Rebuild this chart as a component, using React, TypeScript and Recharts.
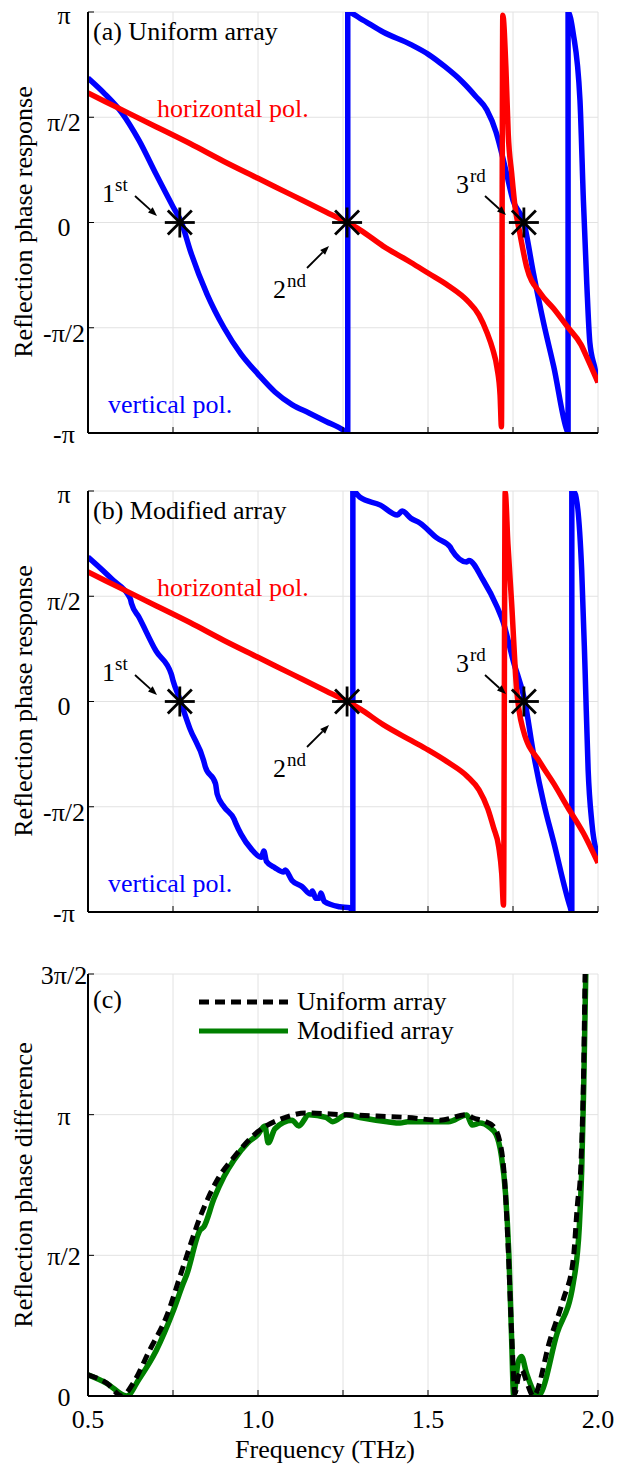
import React from "react";
import { ComposedChart, Line, Scatter, XAxis, YAxis, CartesianGrid } from "recharts";

const FONT = "'Liberation Serif', 'DejaVu Serif', 'Times New Roman', serif";

// frequency axis (THz)
const freqTicks = [0.5, 0.75, 1.0, 1.25, 1.5, 1.75, 2.0];
const freqLabels: Record<string, string> = { "0.5": "0.5", "1": "1.0", "1.5": "1.5", "2": "2.0" };

// phase axes, values in units of pi
const phaseTicks = [-1, -0.5, 0, 0.5, 1];
const phaseLabels: Record<string, string> = { "-1": "-π", "-0.5": "-π/2", "0": "0", "0.5": "π/2", "1": "π" };
const diffTicks = [0, 0.5, 1, 1.5];
const diffLabels: Record<string, string> = { "0": "0", "0.5": "π/2", "1": "π", "1.5": "3π/2" };

// (a) uniform array
const vertA: [number, number][] = [
  [0.5, 0.686], [0.55, 0.61], [0.6, 0.52], [0.65, 0.39], [0.7, 0.23], [0.75, 0.075], [0.775, 0.0],
  [0.8, -0.13], [0.85, -0.34], [0.9, -0.5], [0.95, -0.625], [1.0, -0.72], [1.05, -0.805], [1.1, -0.865],
  [1.15, -0.905], [1.2, -0.945], [1.25, -0.985], [1.264, -1.0], [1.264, 1.0], [1.3, 0.97], [1.368, 0.905],
  [1.45, 0.845], [1.5, 0.8], [1.55, 0.74], [1.6, 0.67], [1.64, 0.6], [1.673, 0.535], [1.7, 0.43],
  [1.712, 0.36], [1.73, 0.24], [1.75, 0.105], [1.782, 0.0], [1.81, -0.24], [1.84, -0.477], [1.87, -0.686],
  [1.908, -0.985], [1.912, -1.0], [1.912, 1.0], [1.927, 0.9], [1.947, 0.58], [1.957, 0.107],
  [1.967, -0.29], [1.976, -0.57], [1.99, -0.686], [2.0, -0.76],
];
const horizA: [number, number][] = [
  [0.5, 0.615], [0.6, 0.535], [0.7, 0.455], [0.8, 0.375], [0.9, 0.29], [1.0, 0.21], [1.1, 0.13],
  [1.2, 0.05], [1.262, 0.0], [1.3, -0.035], [1.368, -0.112], [1.45, -0.19], [1.5, -0.24], [1.56, -0.3],
  [1.615, -0.37], [1.65, -0.44], [1.674, -0.525], [1.69, -0.6], [1.703, -0.69], [1.712, -0.82],
  [1.716, -0.97], [1.72, 0.985], [1.729, 0.74], [1.736, 0.42], [1.746, 0.235], [1.756, 0.075],
  [1.77, -0.05], [1.79, -0.21], [1.83, -0.335], [1.87, -0.41], [1.91, -0.495], [1.95, -0.58],
  [1.97, -0.65], [2.0, -0.76],
];

// (b) modified array
const vertB: [number, number][] = [
  [0.5, 0.686], [0.573, 0.577], [0.624, 0.49], [0.628, 0.465], [0.65, 0.4], [0.7, 0.24], [0.745, 0.13],
  [0.75, 0.1], [0.77, 0.01], [0.8, -0.13], [0.84, -0.28], [0.845, -0.31], [0.875, -0.39], [0.88, -0.44],
  [0.9, -0.5], [0.93, -0.56], [0.935, -0.58], [0.95, -0.63], [0.98, -0.7], [1.01, -0.74], [1.017, -0.71],
  [1.025, -0.76], [1.05, -0.79], [1.075, -0.81], [1.08, -0.8], [1.1, -0.85], [1.13, -0.88], [1.155, -0.915],
  [1.16, -0.9], [1.17, -0.935], [1.18, -0.935], [1.185, -0.91], [1.195, -0.95], [1.24, -0.975],
  [1.27, -0.98], [1.279, -1.0], [1.279, 1.0], [1.3, 0.97], [1.36, 0.933], [1.41, 0.886], [1.424, 0.905],
  [1.45, 0.87], [1.476, 0.848], [1.526, 0.777], [1.565, 0.734], [1.57, 0.72], [1.614, 0.663],
  [1.62, 0.67], [1.662, 0.577], [1.703, 0.45], [1.722, 0.373], [1.75, 0.197], [1.785, 0.0],
  [1.81, -0.245], [1.84, -0.48], [1.87, -0.67], [1.918, -0.976], [1.923, -1.0], [1.923, 1.0],
  [1.932, 0.99], [1.952, 0.625], [1.962, 0.15], [1.971, -0.325], [1.982, -0.577], [2.0, -0.738],
];
const horizB: [number, number][] = [
  [0.5, 0.615], [0.6, 0.535], [0.7, 0.455], [0.8, 0.375], [0.9, 0.29], [1.0, 0.21], [1.1, 0.13],
  [1.2, 0.05], [1.262, 0.0], [1.3, -0.035], [1.368, -0.11], [1.45, -0.185], [1.5, -0.23], [1.56, -0.29],
  [1.615, -0.355], [1.65, -0.42], [1.676, -0.51], [1.693, -0.6], [1.708, -0.69], [1.717, -0.82],
  [1.722, -0.967], [1.727, 0.995], [1.735, 0.75], [1.746, 0.467], [1.76, 0.07], [1.78, -0.135],
  [1.83, -0.29], [1.87, -0.39], [1.91, -0.5], [1.957, -0.625], [2.0, -0.767],
];

const starsA: [number, number][] = [[0.77, 0], [1.262, 0], [1.782, 0]];
const starsB: [number, number][] = [[0.77, 0], [1.262, 0], [1.782, 0]];

// (c) phase difference
const diffUniform: [number, number][] = [
  [0.5, 0.075], [0.555, 0.046], [0.6, 0.0], [0.633, 0.046], [0.68, 0.16], [0.73, 0.28], [0.78, 0.46],
  [0.83, 0.637], [0.88, 0.768], [0.93, 0.85], [1.0, 0.94], [1.075, 0.988], [1.14, 1.006], [1.25, 1.0],
  [1.35, 0.995], [1.44, 0.99], [1.535, 0.98], [1.614, 1.0], [1.63, 0.99], [1.67, 0.975], [1.691, 0.96],
  [1.712, 0.9], [1.726, 0.757], [1.736, 0.52], [1.746, 0.224], [1.756, 0.01], [1.766, 0.07],
  [1.776, 0.092], [1.79, 0.05], [1.81, 0.0], [1.859, 0.2], [1.897, 0.34], [1.927, 0.483], [1.941, 0.7],
  [1.947, 0.76], [1.953, 0.93], [1.957, 1.11], [1.962, 1.5],
];
const diffModified: [number, number][] = [
  [0.5, 0.075], [0.555, 0.045], [0.614, 0.0], [0.65, 0.06], [0.7, 0.16], [0.75, 0.3], [0.78, 0.4],
  [0.79, 0.43], [0.83, 0.59], [0.84, 0.6], [0.87, 0.7], [0.9, 0.78], [0.93, 0.84], [0.97, 0.9],
  [1.0, 0.93], [1.02, 0.96], [1.03, 0.9], [1.05, 0.95], [1.1, 0.98], [1.12, 0.96], [1.15, 1.0],
  [1.2, 0.99], [1.22, 0.975], [1.26, 1.0], [1.3, 0.99], [1.38, 0.975], [1.418, 0.97], [1.44, 0.975],
  [1.5, 0.975], [1.56, 0.975], [1.614, 0.999], [1.63, 0.963], [1.653, 0.97], [1.68, 0.956], [1.7, 0.93],
  [1.715, 0.86], [1.728, 0.72], [1.738, 0.5], [1.746, 0.2], [1.752, 0.0], [1.765, 0.12], [1.775, 0.14],
  [1.79, 0.08], [1.824, 0.0], [1.88, 0.224], [1.927, 0.4], [1.945, 0.6], [1.952, 0.8], [1.958, 1.1],
  [1.964, 1.5],
];

const pts = (a: [number, number][]) => a.map(([f, p]) => ({ f, p }));

const PLOT_L = 88;
const PLOT_R = 598;
const TICK = 6;
const txt = { fontFamily: FONT, fontSize: 26 };
const sup = { fontFamily: FONT, fontSize: 19 };

// baseline shift of y tick labels below their grid line
const phaseLabelDy: Record<string, number> = { "π": 12, "-π": 10, "0": 13, "π/2": 14, "-π/2": 14 };

function Star(props: any) {
  const { cx, cy } = props;
  const r = 15;
  const d = 12;
  return (
    <g stroke="#000" strokeWidth={2.8}>
      <line x1={cx - r} y1={cy} x2={cx + r} y2={cy} />
      <line x1={cx} y1={cy - r} x2={cx} y2={cy + r} />
      <line x1={cx - d} y1={cy - d} x2={cx + d} y2={cy + d} />
      <line x1={cx - d} y1={cy + d} x2={cx + d} y2={cy - d} />
    </g>
  );
}

function makeAxes(plotTop: number, plotBottom: number, yDomain: number[], yTicks: number[], yLabels: Record<string, string>, showX: boolean) {
  const axisLine = { stroke: "#000", strokeWidth: 2 };
  return [
    <XAxis
      key="xb"
      xAxisId={0}
      type="number"
      dataKey="f"
      domain={[0.5, 2]}
      ticks={freqTicks}
      allowDataOverflow
      height={showX ? 71 : 17}
      axisLine={axisLine}
      tickLine={false}
      interval={0}
      tick={(p: any) => {
        const x = p.payload.coordinate;
        const lab = freqLabels[String(p.payload.value)];
        return (
          <g>
            <line x1={x} x2={x} y1={plotBottom} y2={plotBottom - TICK} stroke="#000" />
            {showX && lab ? (
              <text x={x} y={plotBottom + 32} textAnchor="middle" style={txt} fill="#000">
                {lab}
              </text>
            ) : null}
          </g>
        );
      }}
    />,
    <XAxis
      key="xt"
      xAxisId="top"
      orientation="top"
      type="number"
      domain={[0.5, 2]}
      ticks={freqTicks}
      allowDataOverflow
      height={0}
      axisLine={axisLine}
      tickLine={false}
      interval={0}
      tick={(p: any) => {
        const x = p.payload.coordinate;
        return <line x1={x} x2={x} y1={plotTop} y2={plotTop + TICK} stroke="#000" />;
      }}
    />,
    <YAxis
      key="yl"
      yAxisId={0}
      type="number"
      domain={yDomain}
      ticks={yTicks}
      allowDataOverflow
      width={PLOT_L}
      axisLine={axisLine}
      tickLine={false}
      interval={0}
      tick={(p: any) => {
        const y = p.payload.coordinate;
        const lab = yLabels[String(p.payload.value)];
        const dy = showX ? 10 : phaseLabelDy[lab] ?? 12;
        return (
          <g>
            <line x1={PLOT_L} x2={PLOT_L + TICK} y1={y} y2={y} stroke="#000" />
            <text x={64} y={y + dy} textAnchor="middle" style={txt} fill="#000">
              {lab}
            </text>
          </g>
        );
      }}
    />,
    <YAxis
      key="yr"
      yAxisId="right"
      orientation="right"
      type="number"
      domain={yDomain}
      ticks={yTicks}
      allowDataOverflow
      width={0}
      axisLine={axisLine}
      tickLine={false}
      interval={0}
      tick={(p: any) => {
        const y = p.payload.coordinate;
        return <line x1={PLOT_R} x2={PLOT_R - TICK} y1={y} y2={y} stroke="#000" />;
      }}
    />,
  ];
}

// plotTop is relative to the panel container; plot height is always 421px
function PhasePanel({ top, plotTop, vert, horiz, stars }: { top: number; plotTop: number; vert: [number, number][]; horiz: [number, number][]; stars: [number, number][] }) {
  const h = plotTop + 421 + 17;
  return (
    <div style={{ position: "absolute", left: 0, top, width: 618, height: h }}>
      <ComposedChart width={618} height={h} margin={{ top: plotTop, right: 20, bottom: 0, left: 0 }}>
        <CartesianGrid stroke="#e2e2e2" strokeWidth={1} />
        {makeAxes(plotTop, plotTop + 421, [-1, 1], phaseTicks, phaseLabels, false)}
        <Line data={pts(vert)} dataKey="p" type="monotoneX" stroke="#0000ff" strokeWidth={5.5} strokeLinejoin="round" dot={false} activeDot={false} isAnimationActive={false} />
        <Line data={pts(horiz)} dataKey="p" type="monotoneX" stroke="#ff0000" strokeWidth={5.5} strokeLinejoin="round" dot={false} activeDot={false} isAnimationActive={false} />
        <Scatter data={pts(stars)} dataKey="p" shape={(p: any) => <Star {...p} />} isAnimationActive={false} />
      </ComposedChart>
    </div>
  );
}

function DiffPanel() {
  return (
    <div style={{ position: "absolute", left: 0, top: 950, width: 618, height: 517 }}>
      <ComposedChart width={618} height={517} margin={{ top: 24, right: 20, bottom: 0, left: 0 }}>
        <CartesianGrid stroke="#e2e2e2" strokeWidth={1} />
        {makeAxes(24, 446, [0, 1.5], diffTicks, diffLabels, true)}
        <Line data={pts(diffModified)} dataKey="p" type="monotoneX" stroke="#008000" strokeWidth={5.5} strokeLinejoin="round" dot={false} activeDot={false} isAnimationActive={false} />
        <Line data={pts(diffUniform)} dataKey="p" type="monotoneX" stroke="#000" strokeWidth={5} strokeDasharray="10 6" dot={false} activeDot={false} isAnimationActive={false} />
      </ComposedChart>
    </div>
  );
}

function Arrow({ x1, y1, x2, y2 }: { x1: number; y1: number; x2: number; y2: number }) {
  const a = Math.atan2(y2 - y1, x2 - x1);
  const L = 9;
  const w = 3.5;
  const bx = x2 - L * Math.cos(a);
  const by = y2 - L * Math.sin(a);
  const px = -Math.sin(a) * w;
  const py = Math.cos(a) * w;
  return (
    <g>
      <line x1={x1} y1={y1} x2={bx} y2={by} stroke="#000" strokeWidth={1.8} />
      <polygon points={`${x2},${y2} ${bx + px},${by + py} ${bx - px},${by - py}`} fill="#000" />
    </g>
  );
}

function PhaseNotes({ dy, title }: { dy: number; title: string }) {
  return (
    <g>
      <text x={32} y={222 + dy} textAnchor="middle" transform={`rotate(-90 32 ${222 + dy})`} style={txt} fill="#000">
        Reflection phase response
      </text>
      <text x={93} y={40 + dy} style={txt} fill="#000">{title}</text>
      <text x={157} y={117 + dy} style={txt} fill="#ff0000">horizontal pol.</text>
      <text x={108} y={413 + dy} style={txt} fill="#0000ff">vertical pol.</text>
      <text x={102} y={202 + dy} style={txt} fill="#000">1</text>
      <text x={115} y={191 + dy} style={sup} fill="#000">st</text>
      <Arrow x1={135} y1={196 + dy} x2={157} y2={216 + dy} />
      <text x={273} y={298 + dy} style={txt} fill="#000">2</text>
      <text x={287} y={287 + dy} style={sup} fill="#000">nd</text>
      <Arrow x1={307} y1={268 + dy} x2={329} y2={246 + dy} />
      <text x={456} y={193 + dy} style={txt} fill="#000">3</text>
      <text x={470} y={182 + dy} style={sup} fill="#000">rd</text>
      <Arrow x1={485} y1={196 + dy} x2={506} y2={215 + dy} />
    </g>
  );
}

export default function App() {
  return (
    <div style={{ position: "absolute", left: 0, top: 0, width: 618, height: 1467, background: "#fff", fontFamily: FONT }}>
      <PhasePanel top={0} plotTop={12} vert={vertA} horiz={horizA} stars={starsA} />
      <PhasePanel top={462} plotTop={29} vert={vertB} horiz={horizB} stars={starsB} />
      <DiffPanel />
      <svg width={618} height={1467} style={{ position: "absolute", left: 0, top: 0, pointerEvents: "none" }}>
        <PhaseNotes dy={0} title="(a) Uniform array" />
        <PhaseNotes dy={479} title="(b) Modified array" />
        <text x={32} y={1185} textAnchor="middle" transform="rotate(-90 32 1185)" style={txt} fill="#000">
          Reflection phase difference
        </text>
        <text x={93} y={1008} style={txt} fill="#000">(c)</text>
        <line x1={199} x2={288} y1={1002} y2={1002} stroke="#000" strokeWidth={5} strokeDasharray="10 6" />
        <line x1={199} x2={288} y1={1031} y2={1031} stroke="#008000" strokeWidth={5} />
        <text x={297} y={1010} style={txt} fill="#000">Uniform array</text>
        <text x={297} y={1039} style={txt} fill="#000">Modified array</text>
        <text x={325} y={1458} textAnchor="middle" style={txt} fill="#000">Frequency (THz)</text>
      </svg>
    </div>
  );
}
